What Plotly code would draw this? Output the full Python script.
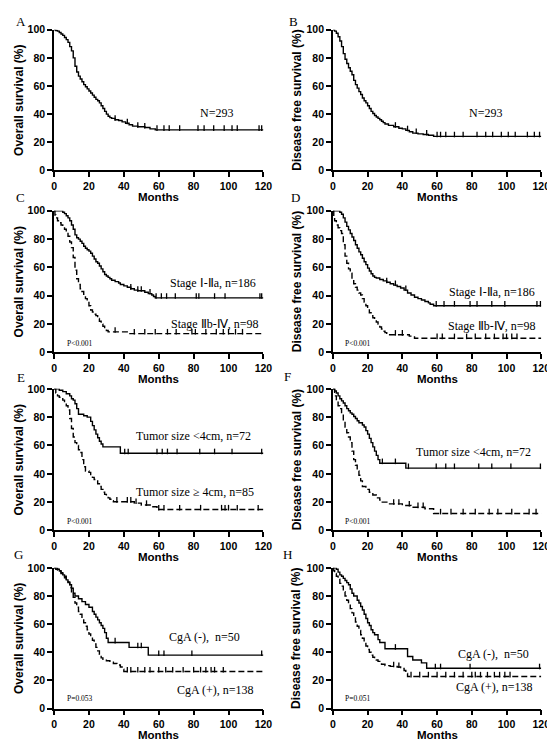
import plotly.graph_objects as go

W, H = 555, 740
FOLLOW_UP = 120

# ---------------- data (months, survival %) ----------------
# A: overall survival, all patients
A_t = [0,1,2,3,4,5,6,7,8,9,10,11,12,13,14,15,16,17,18,19,20,21,22,23,24,25,26,27,28,29,30,31,32,33,35,37,39,41,43,45,48,52,55,58]
A_s = [100,99.5,99,98,97,96,94.5,93,91,88,85,80,74,70,67,65,63,61,59.5,58,56.5,55,53.5,52,50.5,49.5,48,46,44,42,40,38.5,37.5,37,36,35.5,34.5,33.5,32.5,31.5,31,30.5,29.5,28.8]
A_c = [35,42,48,52,59,63,66,72,82.5,86,91.5,97.5,102,105,117.5,119]

# B: disease free survival, all patients
B_t = [0,1,2,3,4,5,6,7,8,9,10,11,12,13,14,15,16,17,18,19,20,21,22,23,24,25,26,27,28,29,30,32,35,38,40,42,44,46,49,52,55,58]
B_s = [100,99,97.5,95,92,88,83,79,76,73,70.5,68,64,61,58.5,56,54,51.5,49.5,48,46,44,42,40.5,39,38,37,36,35,34,33,32,31,30,29.5,28.5,27.5,26.5,26,25.5,25,24.2]
B_c = [36,43,48,54,60,62,65,70,75,83,88,92,97,101,105,112,116,119]

# C: OS by stage
C1_t = [0,5,6,7,8,9,10,11,12,13,14,15,16,17,18,19,20,21,22,23,24,25,26,27,28,29,30,31,32,33,35,37,38,40,42,44,46,48,52,54,56,57,58]
C1_s = [100,99,98,96.5,95,93,90,87,83,81,80,78.5,77,75,73.5,72.5,71.5,70,68,66,64,63,61,59,57,55,54,53,52,51,50,49,48,47,46,45,44,43.5,42.5,41.5,40.5,39.5,38.5]
C1_c = [1,2,3,44,48,50,55,58.5,61.5,64.5,69.5,81.5,83,92,98,118,119]
C2_t = [0,0.5,1,2,3,4,5,6,7,8,9,10,11,12,13,14,15,16,17,18,19,20,21,22,23,24,25,26,27,28,29,30,31,43]
C2_s = [100,97,95,93,91.5,90,88.5,87,85,82,78,74,67,58,52,48,45,43,41,38,36,33,30,28.5,27,26,24,22,20,18.5,17,15.5,14.5,13.3]
C2_c = [35,46,52,58,65,70,79,81,87,93,97,100,104,108]

# D: DFS by stage
D1_t = [0,4,5,6,7,8,9,10,11,12,13,14,15,16,17,18,19,20,21,22,23,24,25,27,29,31,33,35,37,39,41,43,45,47,49,51,53,55,56,58]
D1_s = [100,99,97.5,95,92,89,86.5,84,81.5,79,76,73.5,71,69,66.5,64,62,59.5,57.5,55.5,54,53,52.5,51.5,50.5,49.5,48.5,47.5,46.5,45.5,44,42,40.5,39,38,37,36,35,34,33]
D1_c = [1,2,31,36,42,59.5,64,70,79,83,91.5,99,117.5,119.5]
D2_t = [0,0.5,1,2,3,4,5,6,7,8,9,10,11,12,13,14,15,16,17,18,19,20,21,22,23,24,25,26,27,28,29,30,31,44,47]
D2_s = [100,96,93,90,88,86,84,76,68,63,59,56,52,48.5,46,44,42,40.5,38,35.5,33,31,28,26,24.5,23,21.5,20,18,16.5,15,14,12.5,11.5,10]
D2_c = [36,40,60,63,70,77,82,88,93,98,100,103,106]

# E: OS by tumor size
E1_t = [0,3,5,7,9,10,11,12,13,14,17,19,21,22,23,24,25,26,27,28,38]
E1_s = [100,99,98,96.5,95,93,92,89.5,86,82,81,80,77,74,71,68,65.5,63,61,59,54.5]
E1_c = [1,40.5,42.5,59,62,65,70.5,83.5,92,102,119]
E2_t = [0,1,2,3,5,6,7,8,9,10,11,12,13,14,15,16,17,18,20,21,22,23,24,25,26,27,28,29,30,31,32,33,34,46,50,56,59]
E2_s = [100,97,95,94,92,90,88,85,79,72,66,62,60,57,55,50,45,42,41,39,37.5,36,35,33,31,29,27,25.5,24,23,22,21,20.3,19.3,18,16.8,14.8]
E2_c = [36,42,44,47,53,60,63,72,84,96,98,100,105,117]

# F: DFS by tumor size
F1_t = [0,1,2,3,4,5,6,7,8,9,10,11,12,13,14,15,17,18,19,20,21,22,23,24,25,26,27,42]
F1_s = [100,98.5,97,95,93,91.5,90,88,86,84.5,83,82,80.5,79,77.5,76,74.5,73,70.5,68,65,62,59,56,53,50,47.5,44]
F1_c = [28.5,36,43.5,59.5,65,70,84,91.5,102.5,119.5]
F2_t = [0,1,2,3,4,5,6,7,8,9,10,11,12,13,14,15,16,17,19,21,23,25,27,28,32,40,45,53,58]
F2_s = [100,95,91,88,86,82,77,73,69,66,62,56,50,46,42,39,35,31,29,27,25,23,21.5,20,18.8,17.6,16.4,15.3,12]
F2_c = [35,38,44,49,52,62,68,75,82,90,95,103,113,117]

# G: OS by CgA
G1_t = [0,2,3,4,5,6,7,8,9,10,11,12,14,16,18,20,22,23,24,25,26,27,28,29,30,31,43,54]
G1_s = [100,99,98,96.5,95,93,91.5,89.5,88,85.5,82,80,78,76,74,72,69,67,65,63,61,59,57,54,50,47,43.5,38]
G1_c = [35,48,50,60,63,79,119]
G2_t = [0,1,2,3,4,5,6,7,8,9,10,11,12,13,14,15,16,17,18,19,20,21,22,23,24,25,26,27,28,30,32,34,36,38,39,40]
G2_s = [100,99,98.5,97.5,96,95,94,92,90,86,83,79,75,72,69,67,64,61,58.5,56,53,51,48.5,46,43.5,41,38.5,36,35,34,33,32,31,29.5,28,26.3]
G2_c = [42,44,48,52,55,60,64,68,74,80,84,87,90,92,97]

# H: DFS by CgA
H1_t = [0,2,3,4,5,6,7,8,9,10,11,12,14,15,16,17,18,19,20,21,22,23,24,26,27,30,43,46,51,54]
H1_s = [100,99,97,95,94,92.5,91,89.5,88,85,82,80,77,75,72.5,70,67,64,61,59,56,54,52.5,49,47,42.5,37,34.5,32.5,28.6]
H1_c = [36,59,62,79,119]
H2_t = [0,0.5,1,2,3,4,5,6,7,8,9,10,11,12,13,14,15,16,17,18,19,20,21,22,23,24,25,26,27,28,30,33,37,39,41,42,43]
H2_s = [100,98,96,94,92,89,87,83,80,77,74,71,68,65,61.5,58.5,55.5,52.5,50,47,44.5,42,40,38,36.5,35.5,34.5,33.5,32.5,31.5,30.5,30,29.5,28.5,27,25,22.8]
H2_c = [35,38,45,50,55,60,65,70,75,80,82,85,89,93,96,99,102]

X_TICKS = [0, 20, 40, 60, 80, 100, 120]
Y_TICKS = [0, 20, 40, 60, 80, 100]
OS_TITLE = "Overall survival (%)"
DFS_TITLE = "Disease free survival (%)"
X_TITLE = "Months"

panels = [
    dict(letter="A", col=0, row=0, ytitle=OS_TITLE,
         curves=[(A_t, A_s, A_c, "solid")],
         labels=[("N=293", 93, 41, "center")], p=None),
    dict(letter="B", col=1, row=0, ytitle=DFS_TITLE,
         curves=[(B_t, B_s, B_c, "solid")],
         labels=[("N=293", 88, 41, "center")], p=None),
    dict(letter="C", col=0, row=1, ytitle=OS_TITLE,
         curves=[(C1_t, C1_s, C1_c, "solid"), (C2_t, C2_s, C2_c, "6px,3px")],
         labels=[("Stage Ⅰ-Ⅱa, n=186", 117, 49, "right"), ("Stage Ⅱb-Ⅳ, n=98", 118, 20, "right")],
         p=("P<0.001", 6, 6)),
    dict(letter="D", col=1, row=1, ytitle=DFS_TITLE,
         curves=[(D1_t, D1_s, D1_c, "solid"), (D2_t, D2_s, D2_c, "6px,3px")],
         labels=[("Stage Ⅰ-Ⅱa, n=186", 117.5, 43, "right"), ("Stage Ⅱb-Ⅳ, n=98", 117.5, 19, "right")],
         p=("P<0.001", 6, 6)),
    dict(letter="E", col=0, row=2, ytitle=OS_TITLE,
         curves=[(E1_t, E1_s, E1_c, "solid"), (E2_t, E2_s, E2_c, "6px,3px")],
         labels=[("Tumor size <4cm, n=72", 114, 67, "right"), ("Tumor size ≥ 4cm, n=85", 115.5, 27, "right")],
         p=("P<0.001", 6, 6)),
    dict(letter="F", col=1, row=2, ytitle=DFS_TITLE,
         curves=[(F1_t, F1_s, F1_c, "solid"), (F2_t, F2_s, F2_c, "6px,3px")],
         labels=[("Tumor size <4cm, n=72", 115, 55.5, "right"), ("Tumor size ≥ 4cm, n=85", 120.5, 24, "right")],
         p=("P<0.001", 6, 6)),
    dict(letter="G", col=0, row=3, ytitle=OS_TITLE,
         curves=[(G1_t, G1_s, G1_c, "solid"), (G2_t, G2_s, G2_c, "6px,3px")],
         labels=[("CgA (-),  n=50", 108, 51, "right"), ("CgA (+), n=138", 115.5, 13, "right")],
         p=("P=0.053", 6, 7)),
    dict(letter="H", col=1, row=3, ytitle=DFS_TITLE,
         curves=[(H1_t, H1_s, H1_c, "solid"), (H2_t, H2_s, H2_c, "6px,3px")],
         labels=[("CgA (-),  n=50", 114, 39, "right"), ("CgA (+), n=138", 116.6, 15, "right")],
         p=("P=0.051", 6, 7)),
]

# ---------------- layout geometry (pixels) ----------------
col_px = [(44, 258), (329, 542)]
row_px = [(16, 159), (200, 344), (381, 525), (563, 706)]
letter_px = {"A": (10, 8), "B": (289, 8), "C": (10, 187), "D": (291, 187),
             "E": (10, 369), "F": (283, 368), "G": (8, 549), "H": (283, 549)}
ytitle_x = [8, 292]
CENSOR_LIFT = 1.3  # small upward offset so censor ticks sit on top of the line

SANS = "Liberation Sans, Arial, sans-serif"
SERIF = "Liberation Serif, Times New Roman, serif"


def px_x(p):
    return p / W


def px_y(p):
    return 1 - p / H


def surv_at(t, s, x):
    v = s[0]
    for ti, si in zip(t, s):
        if ti <= x:
            v = si
    return v


fig = go.Figure()
layout = dict(width=W, height=H, margin=dict(l=0, r=0, t=0, b=0),
              paper_bgcolor="white", plot_bgcolor="white", showlegend=False)
annotations = []

for i, pnl in enumerate(panels, start=1):
    xa = "x" if i == 1 else f"x{i}"
    ya = "y" if i == 1 else f"y{i}"
    x0, x1 = col_px[pnl["col"]]
    y0, y1 = row_px[pnl["row"]]
    axis_common = dict(showline=True, linecolor="black", linewidth=1.6,
                       ticks="outside", ticklen=5, tickwidth=1.6, tickcolor="black",
                       showgrid=False, zeroline=False,
                       tickfont=dict(family=SANS, size=10.5, color="black", weight="bold"))
    layout["xaxis" if i == 1 else f"xaxis{i}"] = dict(
        axis_common, domain=[px_x(x0), px_x(x1)], range=[0, 120],
        tickvals=X_TICKS, anchor=ya)
    layout["yaxis" if i == 1 else f"yaxis{i}"] = dict(
        axis_common, domain=[px_y(y1), px_y(y0)], range=[0, 100],
        tickvals=Y_TICKS, anchor=xa)

    for (t, s, c, dash) in pnl["curves"]:
        fig.add_trace(go.Scatter(
            x=t + [FOLLOW_UP], y=s + [s[-1]], mode="lines",
            line=dict(color="black", width=1.4, dash=dash, shape="hv"),
            xaxis=xa, yaxis=ya, cliponaxis=False, hoverinfo="skip"))
        fig.add_trace(go.Scatter(
            x=c, y=[surv_at(t, s, ci) + CENSOR_LIFT for ci in c], mode="markers",
            marker=dict(symbol="line-ns", size=4, color="black",
                        line=dict(color="black", width=1.3)),
            xaxis=xa, yaxis=ya, cliponaxis=False, hoverinfo="skip"))

    for (txt, lx, ly, anchor) in pnl["labels"]:
        annotations.append(dict(text=txt, x=lx, y=ly, xref=xa, yref=ya,
                                xanchor=anchor, yanchor="middle", showarrow=False,
                                font=dict(family=SERIF, size=12, color="black")))
    if pnl["p"]:
        txt, lx, ly = pnl["p"]
        annotations.append(dict(text=txt, x=lx, y=ly, xref=xa, yref=ya,
                                xanchor="left", yanchor="middle", showarrow=False,
                                font=dict(family=SERIF, size=7.5, color="black")))

    lxp, lyp = letter_px[pnl["letter"]]
    annotations.append(dict(text=pnl["letter"], x=px_x(lxp), y=px_y(lyp),
                            xref="paper", yref="paper", xanchor="center", yanchor="middle",
                            showarrow=False, font=dict(family=SERIF, size=13, color="black")))
    annotations.append(dict(text=X_TITLE, x=px_x((x0 + x1) / 2), y=px_y(y1 + 27),
                            xref="paper", yref="paper", xanchor="center", yanchor="middle",
                            showarrow=False,
                            font=dict(family=SANS, size=11.5, color="black", weight="bold")))
    annotations.append(dict(text=pnl["ytitle"], x=px_x(ytitle_x[pnl["col"]]),
                            y=px_y((y0 + y1) / 2), xref="paper", yref="paper",
                            xanchor="center", yanchor="middle", textangle=-90,
                            showarrow=False,
                            font=dict(family=SANS, size=12, color="black", weight="bold")))

layout["annotations"] = annotations
fig.update_layout(**layout)
fig.write_html("out.html")
